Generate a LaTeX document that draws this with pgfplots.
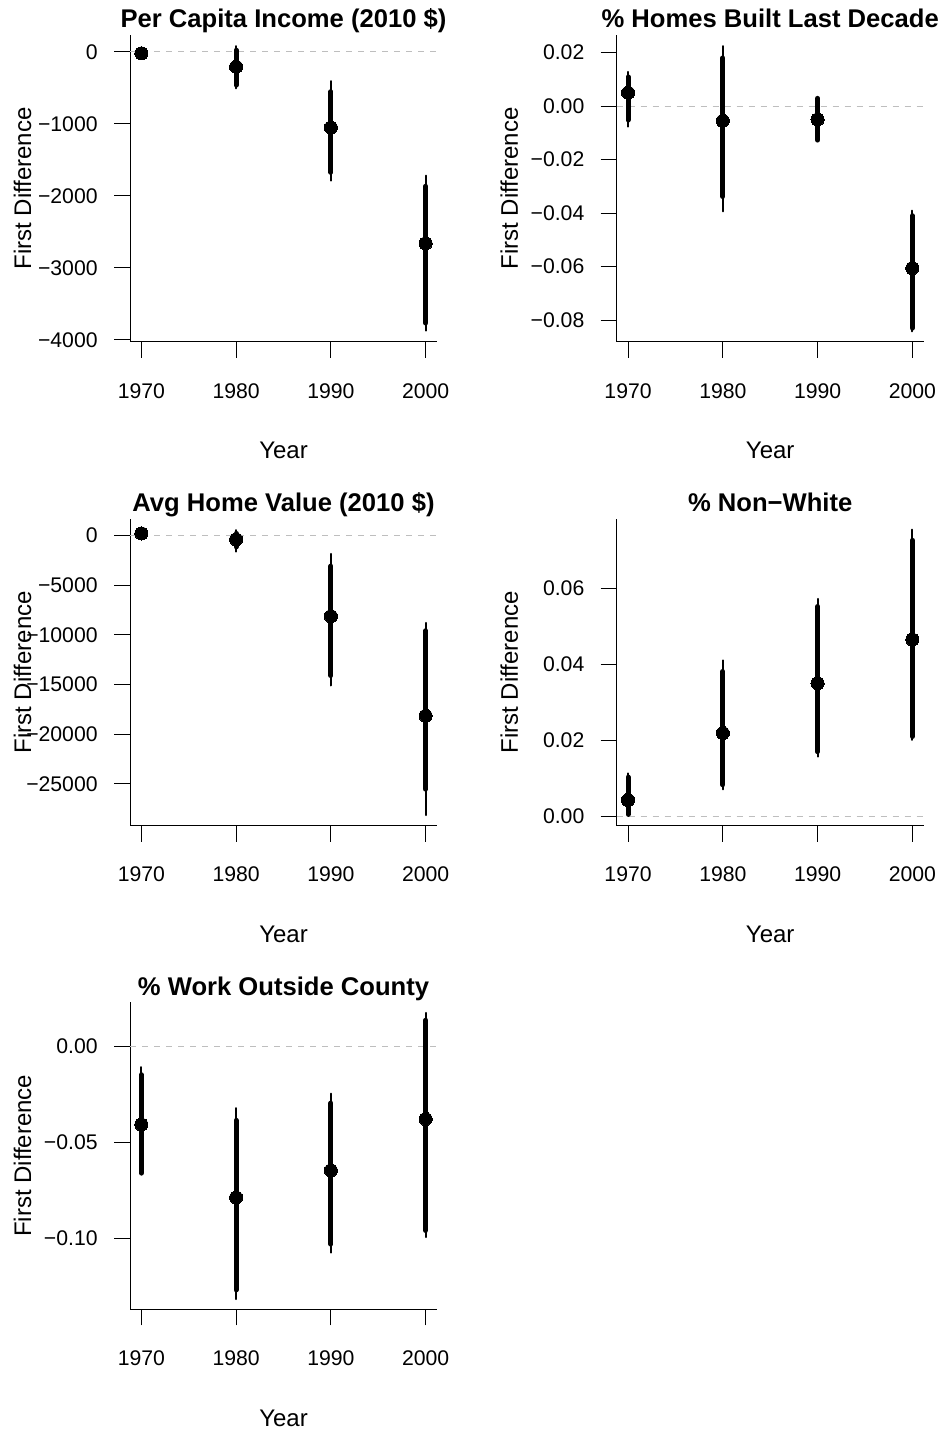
\documentclass[border=0pt]{standalone}
\usepackage{fontspec}
\setmainfont{Liberation Sans}
\usepackage{pgfplots}
\pgfplotsset{compat=1.18}

\definecolor{zeroline}{RGB}{190,190,190}

\pgfplotsset{
  every axis title shift=0pt,
  fd/.style={
    scale only axis, width=153.5pt, height=153.5pt,
    xmin=1968.8, xmax=2001.2,
    axis x line*=bottom, axis y line*=left,
    axis line style={line width=0.5pt, -},
    tick align=outside, major tick length=8pt,
    tick style={line width=0.5pt, black},
    scaled y ticks=false, scaled x ticks=false,
    xtick={1970,1980,1990,2000},
    xticklabels={1970,1980,1990,2000},
    ticklabel style={font=\fontsize{10.6}{12}\selectfont},
    xticklabel style={anchor=base, inner sep=0pt, yshift=-20.15pt},
    yticklabel style={anchor=east, inner sep=0pt, xshift=-8pt},
    xlabel={Year}, ylabel={First Difference},
    label style={font=\fontsize{12}{14}\selectfont},
    xlabel style={at={(axis description cs:0.5,-0.354)}, anchor=center},
    ylabel style={at={(axis description cs:-0.350,0.5)}, anchor=center},
    title style={font=\bfseries\fontsize{12.8}{15}\selectfont,
                 at={(axis description cs:0.5,1.0228)}, anchor=base, yshift=0pt},
    clip=false, unbounded coords=jump,
  },
  zero/.style={color=zeroline, line width=0.5pt, dash pattern=on 3pt off 3pt},
  ci95/.style={black, line width=1pt, line cap=round},
  ci90/.style={black, line width=2.5pt, line cap=round},
  est/.style={only marks, mark=*, mark size=3.3pt, black,
              mark options={line width=0pt, fill=black}},
}

\begin{document}
\begin{tikzpicture}
\useasboundingbox (0,0) rectangle (471pt,716.5pt);

% Per capita income
\begin{axis}[fd, at={(65pt,545.5pt)}, anchor=south west,
  title={Per Capita Income (2010 \$)},
  ymin=-4030, ymax=235,
  ytick={-4000,-3000,-2000,-1000,0},
  yticklabels={−4000,−3000,−2000,−1000,0}]
\addplot[zero] coordinates {(1968.8,0) (2001.2,0)};
\addplot[ci95] coordinates {(1970,20) (1970,-60) (1970,nan)
  (1980,79) (1980,-506) (1980,nan)
  (1990,-405) (1990,-1788) (1990,nan)
  (2000,-1719) (2000,-3873)};
\addplot[ci90] coordinates {(1970,5) (1970,-45) (1970,nan)
  (1980,23) (1980,-461) (1980,nan)
  (1990,-553) (1990,-1673) (1990,nan)
  (2000,-1867) (2000,-3766)};
\addplot[est] coordinates {(1970,-20) (1980,-207) (1990,-1051) (2000,-2660)};
\end{axis}

% Homes built last decade
\begin{axis}[fd, at={(308.35pt,545.5pt)}, anchor=south west,
  title={\% Homes Built Last Decade},
  ymin=-0.0882, ymax=0.0266,
  ytick={-0.08,-0.06,-0.04,-0.02,0,0.02},
  yticklabels={−0.08,−0.06,−0.04,−0.02,0.00,0.02}]
\addplot[zero] coordinates {(1968.8,0) (2001.2,0)};
\addplot[ci95] coordinates {(1970,0.0128) (1970,-0.0077) (1970,nan)
  (1980,0.0224) (1980,-0.0394) (1980,nan)
  (1990,0.0032) (1990,-0.0130) (1990,nan)
  (2000,-0.0391) (2000,-0.0842)};
\addplot[ci90] coordinates {(1970,0.0109) (1970,-0.0052) (1970,nan)
  (1980,0.0180) (1980,-0.0338) (1980,nan)
  (1990,0.0029) (1990,-0.0127) (1990,nan)
  (2000,-0.0410) (2000,-0.0830)};
\addplot[est] coordinates {(1970,0.0050) (1980,-0.0055) (1990,-0.0050) (2000,-0.0606)};
\end{axis}

% Average home value
\begin{axis}[fd, at={(65pt,303.65pt)}, anchor=south west,
  title={Avg Home Value (2010 \$)},
  ymin=-29204, ymax=1683,
  ytick={-25000,-20000,-15000,-10000,-5000,0},
  yticklabels={−25000,−20000,−15000,−10000,−5000,0}]
\addplot[zero] coordinates {(1968.8,0) (2001.2,0)};
\addplot[ci95] coordinates {(1970,350) (1970,50) (1970,nan)
  (1980,530) (1980,-1640) (1980,nan)
  (1990,-1850) (1990,-15100) (1990,nan)
  (2000,-8800) (2000,-28130)};
\addplot[ci90] coordinates {(1970,300) (1970,100) (1970,nan)
  (1980,200) (1980,-1150) (1980,nan)
  (1990,-3090) (1990,-14100) (1990,nan)
  (2000,-9590) (2000,-25530)};
\addplot[est] coordinates {(1970,200) (1980,-400) (1990,-8130) (2000,-18150)};
\end{axis}

% Non-white share
\begin{axis}[fd, at={(308.35pt,303.65pt)}, anchor=south west,
  title={\% Non−White},
  ymin=-0.00237, ymax=0.0784,
  ytick={0,0.02,0.04,0.06},
  yticklabels={0.00,0.02,0.04,0.06}]
\addplot[zero] coordinates {(1968.8,0) (2001.2,0)};
\addplot[ci95] coordinates {(1970,0.0114) (1970,0.0003) (1970,nan)
  (1980,0.0411) (1980,0.0072) (1980,nan)
  (1990,0.0573) (1990,0.0158) (1990,nan)
  (2000,0.0755) (2000,0.0202)};
\addplot[ci90] coordinates {(1970,0.0104) (1970,0.0006) (1970,nan)
  (1980,0.0382) (1980,0.0084) (1980,nan)
  (1990,0.0553) (1990,0.0171) (1990,nan)
  (2000,0.0727) (2000,0.0211)};
\addplot[est] coordinates {(1970,0.0044) (1980,0.0220) (1990,0.0351) (2000,0.0466)};
\end{axis}

% Commuting outside the county
\begin{axis}[fd, at={(65pt,61.85pt)}, anchor=south west,
  title={\% Work Outside County},
  ymin=-0.1371, ymax=0.02296,
  ytick={-0.10,-0.05,0},
  yticklabels={−0.10,−0.05,0.00}]
\addplot[zero] coordinates {(1968.8,0) (2001.2,0)};
\addplot[ci95] coordinates {(1970,-0.0108) (1970,-0.0666) (1970,nan)
  (1980,-0.0322) (1980,-0.1318) (1980,nan)
  (1990,-0.0247) (1990,-0.1075) (1990,nan)
  (2000,0.0174) (2000,-0.0995)};
\addplot[ci90] coordinates {(1970,-0.0148) (1970,-0.0661) (1970,nan)
  (1980,-0.0386) (1980,-0.1270) (1980,nan)
  (1990,-0.0296) (1990,-0.1031) (1990,nan)
  (2000,0.0136) (2000,-0.0960)};
\addplot[est] coordinates {(1970,-0.0408) (1980,-0.0788) (1990,-0.0647) (2000,-0.0379)};
\end{axis}
\end{tikzpicture}
\end{document}
